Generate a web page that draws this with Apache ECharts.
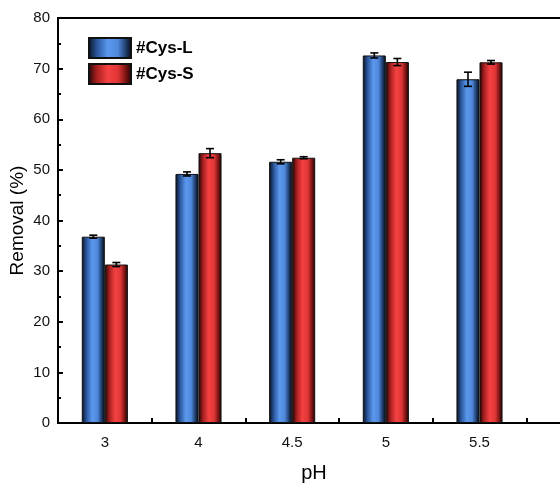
<!DOCTYPE html>
<html>
<head>
<meta charset="utf-8">
<script src="https://cdn.jsdelivr.net/npm/echarts@6/dist/echarts.min.js"></script>
<style>
  html, body { margin: 0; padding: 0; background: #fff; }
  #chart { width: 560px; height: 483px; }
</style>
</head>
<body>
<div id="chart"></div>
<script>
// pH levels tested
const phLevels = ['3', '4', '4.5', '5', '5.5'];
// Removal efficiency (%) and standard deviation for each adsorbent
const cysL = [36.8, 49.2, 51.6, 72.6, 67.9];
const cysLErr = [0.3, 0.4, 0.4, 0.5, 1.4];
const cysS = [31.3, 53.3, 52.4, 71.3, 71.25];
const cysSErr = [0.4, 0.9, 0.2, 0.7, 0.35];
const yTicks = [0, 10, 20, 30, 40, 50, 60, 70, 80];

const BAR_FRAC = 0.246; // bar width as a fraction of the category band

const chart = echarts.init(document.getElementById('chart'), null, { renderer: 'canvas' });

function cylinder(stops) {
  return new echarts.graphic.LinearGradient(0, 0, 1, 0, stops);
}
const blueFill = cylinder([
  { offset: 0, color: '#060e1c' },
  { offset: 0.2, color: '#2a559a' },
  { offset: 0.45, color: '#5b99ee' },
  { offset: 0.68, color: '#4f88dc' },
  { offset: 0.88, color: '#1a345e' },
  { offset: 1, color: '#050a14' }
]);
const redFill = cylinder([
  { offset: 0, color: '#200303' },
  { offset: 0.2, color: '#a82020' },
  { offset: 0.45, color: '#f54142' },
  { offset: 0.68, color: '#e03636' },
  { offset: 0.88, color: '#701010' },
  { offset: 1, color: '#180202' }
]);

// error bar drawn through the axes: side = -1 (left bar) or +1 (right bar)
function errorBars(values, errs, side) {
  return {
    type: 'custom',
    silent: true,
    z: 5,
    data: values.map((v, i) => [i, v, errs[i]]),
    renderItem: function (params, api) {
      const i = api.value(0), v = api.value(1), e = api.value(2);
      const band = api.size([1, 0])[0];
      const x = api.coord([i, v])[0] + side * band * BAR_FRAC / 2;
      const yHi = api.coord([i, v + e])[1];
      const yLo = api.coord([i, v - e])[1];
      const cap = 4;
      const style = { stroke: '#000', lineWidth: 1.6 };
      return {
        type: 'group',
        children: [
          { type: 'line', shape: { x1: x, y1: yHi, x2: x, y2: yLo }, style: style },
          { type: 'line', shape: { x1: x - cap, y1: yHi, x2: x + cap, y2: yHi }, style: style },
          { type: 'line', shape: { x1: x - cap, y1: yLo, x2: x + cap, y2: yLo }, style: style }
        ]
      };
    }
  };
}

const option = {
  backgroundColor: '#fff',
  animation: false,
  textStyle: { fontFamily: 'Liberation Sans, Arial, sans-serif' },
  grid: {
    left: 58, top: 18, bottom: 60, width: 562,
    outerBoundsMode: 'none', containLabel: false,
    show: true, borderColor: '#000', borderWidth: 2, backgroundColor: 'transparent'
  },
  legend: {
    left: 83, top: 32, orient: 'vertical',
    icon: 'rect',
    itemWidth: 42, itemHeight: 20, itemGap: 4,
    textStyle: { fontSize: 17, fontWeight: 'bold', color: '#000' },
    data: ['#Cys-L', '#Cys-S']
  },
  xAxis: {
    type: 'category',
    data: phLevels,
    max: phLevels.length,
    name: 'pH',
    nameLocation: 'middle',
    nameGap: 40,
    nameMoveOverlap: false,
    nameTextStyle: { fontSize: 20, color: '#000', padding: [0, 50, 0, 0] },
    axisLine: { lineStyle: { color: '#000', width: 2 } },
    axisTick: { show: true, inside: true, length: 5, lineStyle: { color: '#000', width: 2 } },
    axisLabel: {
      fontSize: 15, color: '#111', margin: 12,
      formatter: (v) => (v === undefined || v === 'undefined') ? '' : v
    },
    splitLine: { show: false }
  },
  yAxis: {
    type: 'value',
    min: yTicks[0], max: yTicks[yTicks.length - 1], interval: 10,
    name: 'Removal (%)',
    nameLocation: 'middle',
    nameGap: 31,
    nameMoveOverlap: false,
    nameTextStyle: { fontSize: 19, color: '#000' },
    axisLine: { show: true, lineStyle: { color: '#000', width: 2 } },
    axisTick: { show: true, inside: true, length: 5, lineStyle: { color: '#000', width: 2 } },
    minorTick: { show: true, splitNumber: 2, length: 3, lineStyle: { color: '#000', width: 2 } },
    axisLabel: { fontSize: 15, color: '#111', margin: 8 },
    splitLine: { show: false }
  },
  series: [
    {
      name: '#Cys-L', type: 'bar', data: cysL,
      barWidth: (BAR_FRAC * 100) + '%', barGap: '0%',
      itemStyle: { color: blueFill, borderColor: '#111', borderWidth: 1 }
    },
    {
      name: '#Cys-S', type: 'bar', data: cysS,
      barWidth: (BAR_FRAC * 100) + '%', barGap: '0%',
      itemStyle: { color: redFill, borderColor: '#111', borderWidth: 1 }
    },
    errorBars(cysL, cysLErr, -1),
    errorBars(cysS, cysSErr, 1)
  ]
};

chart.setOption(option);
</script>
</body>
</html>
